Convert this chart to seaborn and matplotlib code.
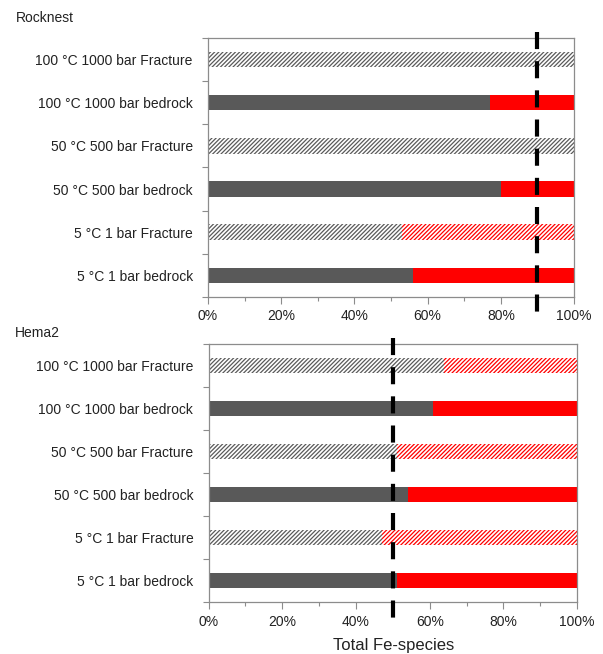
import numpy as np
import pandas as pd
import seaborn as sns
import matplotlib.pyplot as plt
from matplotlib.ticker import MultipleLocator, FixedLocator

# sample labels, top to bottom
labels = ["100 °C 1000 bar Fracture", "100 °C 1000 bar bedrock",
          "50 °C 500 bar Fracture", "50 °C 500 bar bedrock",
          "5 °C 1 bar Fracture", "5 °C 1 bar bedrock"]

# share (%) of the grey species, the rest is red
rocknest_grey = [100, 77, 100, 80, 53, 56]
hema2_grey = [64, 61, 51, 54, 47, 51]

# reference values of the dashed lines (%)
rocknest_ref = 90
hema2_ref = 50

x_ticks = [0, 20, 40, 60, 80, 100]

panels = [("Rocknest", rocknest_grey, rocknest_ref),
          ("Hema2", hema2_grey, hema2_ref)]

GREY = "#595959"
RED = "#ff0000"
SPINE = "#8c8c8c"

sns.set_style("white")
plt.rcParams['font.family'] = ['Liberation Sans', 'DejaVu Sans']
plt.rcParams['hatch.linewidth'] = 0.9

fig = plt.figure(figsize=(6.03, 6.54), dpi=100)
ax_top = fig.add_axes([0.345, 0.546, 0.607, 0.396])
ax_bot = fig.add_axes([0.346, 0.0795, 0.611, 0.3945])

for ax, (name, grey, ref) in zip([ax_top, ax_bot], panels):
    df = pd.DataFrame({"label": labels, "grey": grey, "total": [100] * len(labels)})
    sns.barplot(data=df, y="label", x="total", orient="h", color=RED,
                width=0.36, saturation=1, linewidth=0, ax=ax)
    sns.barplot(data=df, y="label", x="grey", orient="h", color=GREY,
                width=0.36, saturation=1, linewidth=0, ax=ax)
    n = len(labels)
    for i, p in enumerate(ax.patches):
        k = i % n
        if "Fracture" in labels[k]:
            hc = RED if i < n else "#5a5a5a"
            p.set_facecolor("white")
            p.set_edgecolor(hc)
            p.set_hatch("////////")
            p.set_linewidth(0)

    ax.set_xticks(x_ticks)
    ax.set_xticklabels([f"{t}%" for t in x_ticks])
    ax.xaxis.set_minor_locator(MultipleLocator(10))
    ax.set_xlim(0, 100)
    ax.set_ylim(n - 0.5, -0.5)
    ax.yaxis.set_minor_locator(FixedLocator(np.arange(-0.5, n, 1.0)))
    ax.tick_params(axis="y", which="major", length=0, pad=11, labelsize=10, labelcolor="#222222")
    ax.tick_params(axis="y", which="minor", length=4, direction="out", color=SPINE, width=0.8, left=True)
    ax.tick_params(axis="x", which="major", length=5, direction="out", color=SPINE, width=0.8,
                   labelsize=10, labelcolor="#222222", bottom=True, pad=4)
    ax.tick_params(axis="x", which="minor", length=3, direction="out", color=SPINE, width=0.8, bottom=True)
    for s in ax.spines.values():
        s.set_visible(True)
        s.set_color(SPINE)
        s.set_linewidth(0.9)
    ax.set_ylabel("")
    ax.set_xlabel("")

    ax.plot([ref, ref], [1.024, -0.064], transform=ax.get_xaxis_transform(),
            color="black", lw=3, dashes=(4.1, 2.9), clip_on=False, zorder=5)

fig.text(0.652, 0.0135, "Total Fe-species", fontsize=12, color="#222222", ha="center", va="center")

fig.text(0.027, 0.973, "Rocknest", fontsize=10, color="#222222", va="center", ha="left")
fig.text(0.025, 0.491, "Hema2", fontsize=10, color="#222222", va="center", ha="left")

fig.savefig("out.png", dpi=100)
